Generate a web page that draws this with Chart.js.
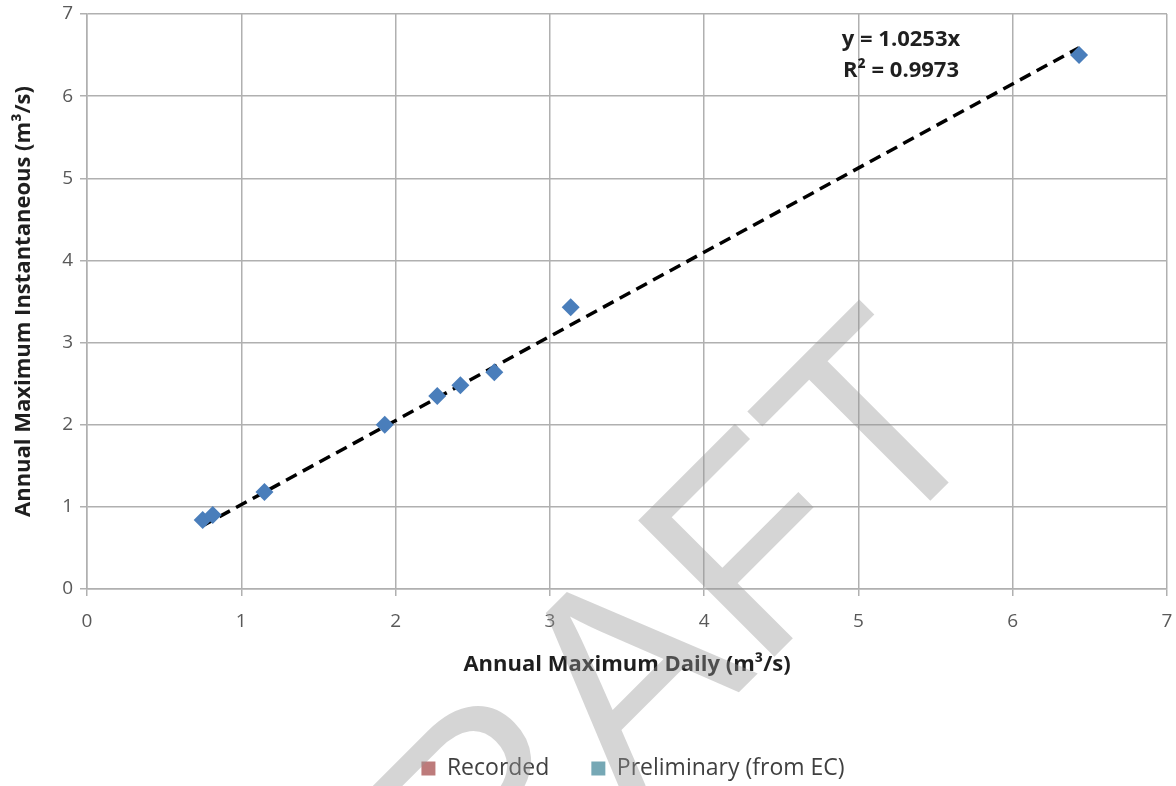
<!DOCTYPE html>
<html>
<head>
<meta charset="utf-8">
<script src="https://cdn.jsdelivr.net/npm/chart.js@4.4.1/dist/chart.umd.min.js"></script>
<style>
html,body{margin:0;padding:0;background:#ffffff;}
#wrap{width:1176px;height:786px;position:relative;}
</style>
</head>
<body>
<div id="wrap"><canvas id="c" width="1176" height="786"></canvas></div>
<script>
// ---- data ----
const dailyFlow = [0.75, 0.815, 1.15, 1.93, 2.27, 2.42, 2.64, 3.135, 6.43];
const instFlow  = [0.84, 0.90, 1.18, 2.00, 2.35, 2.48, 2.64, 3.43, 6.50];
const trendX = [0.75, 6.43];
const trendY = [0.77, 6.59];
const xTicks = [0, 1, 2, 3, 4, 5, 6, 7];
const yTicks = [0, 1, 2, 3, 4, 5, 6, 7];
const legendLabels = ['Recorded', 'Preliminary (from EC)'];
const legendColors = ['#bd7b7b', '#76a8b5'];
const equationLines = ['y = 1.0253x', 'R\u00B2 = 0.9973'];
const xTitle = 'Annual Maximum Daily (m\u00B3/s)';
const yTitle = 'Annual Maximum Instantaneous (m\u00B3/s)';
const watermarkText = 'DRAFT';

// ---- layout constants ----
const FONT = '"Open Sans", Lato, sans-serif';
const GRID = '#b0b0b0';
const LEG_PAD = 42;
const LEG_FONT = 23;
const LEG_H = LEG_FONT + LEG_PAD + 10;
const BOTTOM_PAD = -4;
const PLOT_BOTTOM = 589;

const scatterPts = dailyFlow.map((x, i) => ({x: x, y: instFlow[i]}));
const trendPts = trendX.map((x, i) => ({x: x, y: trendY[i]}));

const datasets = [
  {
    type: 'scatter', label: 'Observed', data: scatterPts,
    pointStyle: 'rectRot', pointRadius: 9, pointHoverRadius: 9,
    backgroundColor: '#4a7ebb', borderColor: '#4a7ebb', borderWidth: 0, order: 1
  },
  {
    type: 'line', label: 'Linear trend', data: trendPts,
    borderColor: '#000000', borderWidth: 3.5, borderDash: [12, 7],
    pointRadius: 0, fill: false, tension: 0, order: 2
  }
];
legendLabels.forEach((lab, i) => {
  datasets.push({type: 'scatter', label: lab, data: [], backgroundColor: legendColors[i], borderColor: legendColors[i], borderWidth: 0});
});

const overlayPlugin = {
  id: 'overlay',
  afterLayout(chart) {
    const L = chart.legend;
    if (L) {
      const ca = chart.chartArea;
      const shift = (ca.left + ca.right) / 2 + 6 - (L.left + L.right) / 2;
      L.left += shift; L.right += shift;
    }
  },
  afterDatasetsDraw(chart) {
    const ctx = chart.ctx;
    ctx.save();
    ctx.fillStyle = '#1f1f1f';
    ctx.font = 'bold 22px ' + FONT;
    ctx.textAlign = 'center';
    ctx.textBaseline = 'alphabetic';
    ctx.fillText(equationLines[0], 901, 46);
    ctx.fillText(equationLines[1], 901, 77);
    ctx.restore();
  },
  afterDraw(chart) {
    const ctx = chart.ctx;
    ctx.save();
    ctx.font = '280px "Liberation Sans", Arial, sans-serif';
    ctx.fillStyle = 'rgba(150,150,150,0.40)';
    ctx.textAlign = 'left';
    ctx.textBaseline = 'alphabetic';
    ctx.rotate(-Math.PI / 4);
    ctx.fillText(watermarkText, -531, 1012);
    ctx.restore();
  }
};

new Chart(document.getElementById('c'), {
  data: {datasets: datasets},
  options: {
    responsive: false,
    animation: false,
    layout: {padding: {top: 14, right: 4, left: 0, bottom: BOTTOM_PAD}},
    plugins: {
      tooltip: {enabled: false},
      legend: {
        position: 'bottom',
        labels: {
          filter: (item) => legendLabels.includes(item.text),
          boxWidth: 14, boxHeight: 14, padding: LEG_PAD,
          color: '#404040',
          font: {family: FONT, size: LEG_FONT}
        }
      }
    },
    scales: {
      x: {
        type: 'linear', min: 0, max: 7,
        afterBuildTicks: (s) => { s.ticks = xTicks.map(v => ({value: v})); },
        afterFit: (s) => { s.height = 786 - BOTTOM_PAD - PLOT_BOTTOM - LEG_H; s.paddingLeft = 0; s.paddingRight = 0; },
        grid: {color: GRID, lineWidth: 1.5, tickLength: 7, drawTicks: true},
        border: {display: true, color: GRID, width: 1.5},
        ticks: {color: '#595959', font: {family: FONT, size: 19}, padding: 14, maxRotation: 0},
        title: {display: true, text: xTitle, color: '#1f1f1f', font: {family: FONT, size: 22, weight: 'bold'}, padding: {top: 0, bottom: 37}}
      },
      y: {
        type: 'linear', min: 0, max: 7,
        afterBuildTicks: (s) => { s.ticks = yTicks.map(v => ({value: v})); },
        afterFit: (s) => { s.width = 87; s.paddingTop = 0; s.paddingBottom = 0; },
        grid: {color: GRID, lineWidth: 1.5, tickLength: 7, drawTicks: true},
        border: {display: true, color: GRID, width: 1.5},
        ticks: {color: '#595959', font: {family: FONT, size: 19}, padding: 7},
        title: {display: true, text: yTitle, color: '#1f1f1f', font: {family: FONT, size: 22, weight: 'bold'}, padding: {top: 11, bottom: 0}}
      }
    }
  },
  plugins: [overlayPlugin]
});
</script>
</body>
</html>
